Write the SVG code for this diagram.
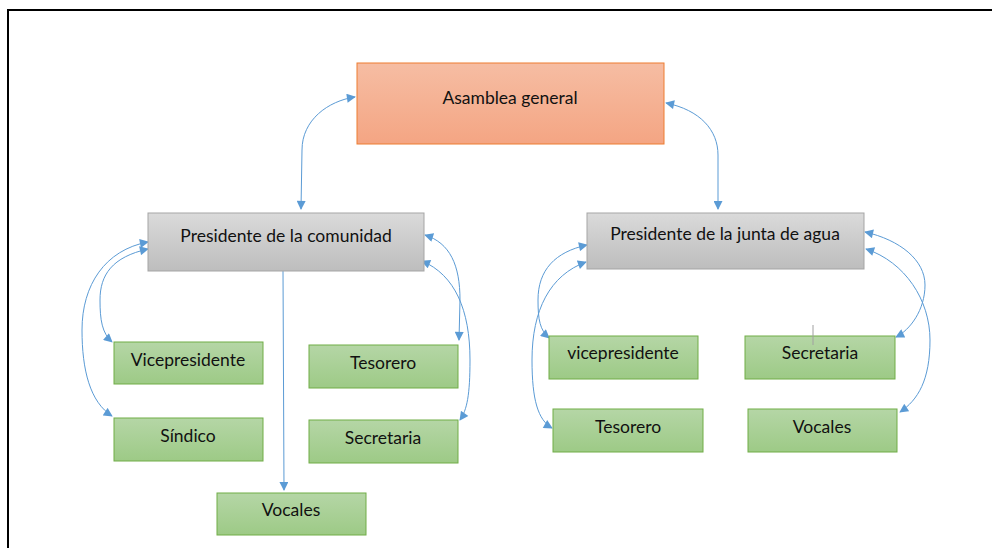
<svg xmlns="http://www.w3.org/2000/svg" width="992" height="548" viewBox="0 0 992 548">
<defs>
<linearGradient id="gOr" x1="0" y1="0" x2="0" y2="1"><stop offset="0" stop-color="#f6bda3"/><stop offset="1" stop-color="#f4a583"/></linearGradient>
<linearGradient id="gGr" x1="0" y1="0" x2="0" y2="1"><stop offset="0" stop-color="#dadada"/><stop offset="1" stop-color="#bdbdbd"/></linearGradient>
<linearGradient id="gGn" x1="0" y1="0" x2="0" y2="1"><stop offset="0" stop-color="#b5d6a6"/><stop offset="1" stop-color="#9dca86"/></linearGradient>
<marker id="ah" viewBox="0 0 10 10" refX="9" refY="5" markerWidth="10" markerHeight="9" markerUnits="userSpaceOnUse" orient="auto-start-reverse"><path d="M0,0 L10,5 L0,10 Z" fill="#5b9bd5"/></marker>
</defs>
<style>
.or{fill:url(#gOr);stroke:#ed7d31;stroke-width:1}
.gr{fill:url(#gGr);stroke:#a5a5a5;stroke-width:1}
.gn{fill:url(#gGn);stroke:#70ad47;stroke-width:1}
text{font-family:Lato,"Liberation Sans",sans-serif;font-size:17.5px;fill:#111;text-anchor:middle}
.c{fill:none;stroke:#5b9bd5;stroke-width:1}
.b{marker-start:url(#ah);marker-end:url(#ah)}
.e{marker-end:url(#ah)}
</style>
<rect width="992" height="548" fill="#fff"/>
<path d="M8,548 V10 H992" fill="none" stroke="#000" stroke-width="2"/>
<g id="connectors">
<path class="c b" d="M355,97 C328,101 302,120 302,150 L301,209"/>
<path class="c b" d="M666,103 C700,110 718,130 718,155 L718,209"/>
<path class="c b" d="M148,249 C112,257 100,275 100,300 C100,320 102,333 112,342"/>
<path class="c b" d="M148,242 C105,250 82,285 82,330 C82,370 90,402 112,416"/>
<path class="c b" d="M425,235 C450,243 460,265 460,300 L459,340"/>
<path class="c b" d="M422,261 C455,275 470,310 470,360 C470,395 467,410 460,420"/>
<path class="c e" d="M283,271 L284,490"/>
<path class="c b" d="M587,245 C555,252 538,270 538,300 C538,320 540,330 549,338"/>
<path class="c b" d="M586,262 C550,275 532,310 532,360 C532,400 538,420 552,428"/>
<path class="c b" d="M865,232 C900,240 925,260 925,285 C925,310 910,330 896,337"/>
<path class="c b" d="M866,249 C905,262 930,300 930,340 C930,380 918,400 900,412"/>
</g>
<g id="asamblea"><rect class="or" x="357" y="63" width="307" height="81"/><text x="510" y="104">Asamblea general</text></g>
<g id="pres-comunidad"><rect class="gr" x="148" y="213" width="276" height="58"/><text x="286" y="242">Presidente de la comunidad</text></g>
<g id="pres-junta"><rect class="gr" x="587" y="213" width="277" height="56"/><text x="725" y="240">Presidente de la junta de agua</text></g>
<g id="vicepresidente-l"><rect class="gn" x="114" y="342" width="149" height="42"/><text x="188" y="366">Vicepresidente</text></g>
<g id="sindico-l"><rect class="gn" x="114" y="418" width="149" height="43"/><text x="188" y="442">Síndico</text></g>
<g id="tesorero-l"><rect class="gn" x="309" y="345" width="149" height="43"/><text x="383" y="369">Tesorero</text></g>
<g id="secretaria-l"><rect class="gn" x="309" y="420" width="149" height="43"/><text x="383" y="444">Secretaria</text></g>
<g id="vocales-l"><rect class="gn" x="217" y="493" width="149" height="42"/><text x="291" y="516">Vocales</text></g>
<g id="vicepresidente-r"><rect class="gn" x="549" y="336" width="149" height="43"/><text x="623" y="359">vicepresidente</text></g>
<g id="secretaria-r"><rect class="gn" x="745" y="336" width="150" height="43"/><line x1="813" y1="325" x2="813" y2="345" stroke="#a0a0a0" stroke-width="1"/><text x="820" y="359">Secretaria</text></g>
<g id="tesorero-r"><rect class="gn" x="553" y="409" width="150" height="43"/><text x="628" y="433">Tesorero</text></g>
<g id="vocales-r"><rect class="gn" x="748" y="409" width="149" height="43"/><text x="822" y="433">Vocales</text></g>
</svg>
